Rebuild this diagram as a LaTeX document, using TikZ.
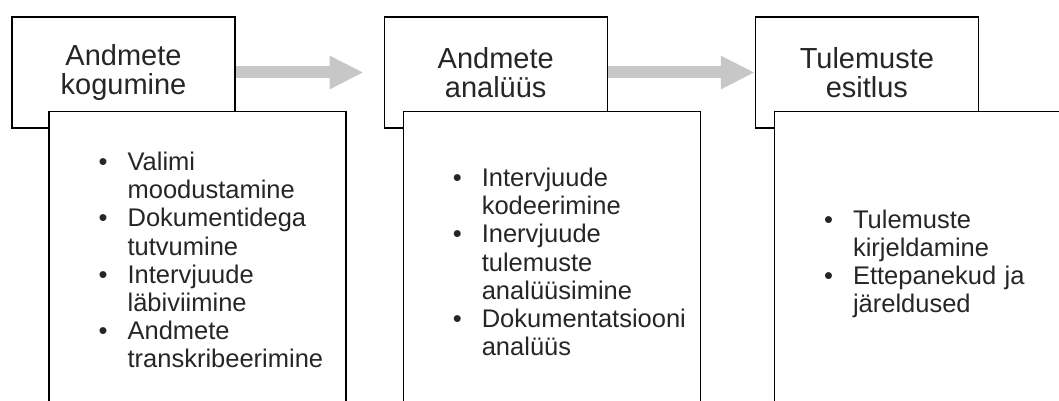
\documentclass[tikz,border=0pt]{standalone}
\usepackage{fontspec}
\setmainfont{Liberation Sans}
\usetikzlibrary{positioning,arrows.meta}
\tikzstyle{head}=[draw,fill=white,line width=1.2pt,minimum width=223pt,minimum height=111pt,inner sep=0pt,align=center,text=black!85,font=\fontsize{29}{29.5}\selectfont]
\tikzstyle{detail}=[draw,fill=white,line width=1.2pt,minimum width=297pt,minimum height=310pt,inner sep=0pt,anchor=north west]
\tikzstyle{items}=[anchor=west,inner sep=0pt,text width=240pt,align=left,text=black!85,font=\fontsize{25.5}{28.2}\selectfont]
\tikzstyle{flow}=[line width=12pt,draw=black!22,-{Triangle[length=34pt,width=31pt]}]
\newcommand{\itm}[1]{\par\hangindent=29pt\hangafter=1\noindent\makebox[29pt][l]{\textbullet}#1\par}

\begin{document}
\begin{tikzpicture}[x=1pt,y=-1pt]
          \useasboundingbox (0,0) rectangle (1059,401);
          \clip (0,0) rectangle (1059,401);
          % headers
          \node[head] (h1) at (123.5,72.5) {Andmete\\kogumine};
          \node[head,right=148pt of h1] (h2) {Andmete\\analüüs};
          \node[head,right=147pt of h2] (h3) {Tulemuste\\esitlus};
          % arrows
          \path[flow,shorten >=20pt] (h1) -- (h2);
          \path[flow] (h2) -- (h3);
          % detail boxes
          \node[detail] (d1) at ([xshift=37pt,yshift=18pt]h1.south west) {};
          \node[detail] (d2) at ([xshift=19pt,yshift=18pt]h2.south west) {};
          \node[detail] (d3) at ([xshift=19pt,yshift=18pt]h3.south west) {};
          \node[items] (l1) at ([xshift=50pt,yshift=11pt]d1.west) {%
            \itm{Valimi\newline moodustamine}
            \itm{Dokumentidega\newline tutvumine}
            \itm{Intervjuude\newline läbiviimine}
            \itm{Andmete\newline transkribeerimine}};
          \node[items] (l2) at ([xshift=50pt,yshift=9pt]d2.west) {%
            \itm{Intervjuude\newline kodeerimine}
            \itm{Inervjuude\newline tulemuste\newline analüüsimine}
            \itm{Dokumentatsiooni\newline analüüs}};
          \node[items] (l3) at ([xshift=50pt,yshift=7pt]d3.west) {%
            \itm{Tulemuste\newline kirjeldamine}
            \itm{Ettepanekud ja\newline järeldused}};
\end{tikzpicture}
\end{document}
